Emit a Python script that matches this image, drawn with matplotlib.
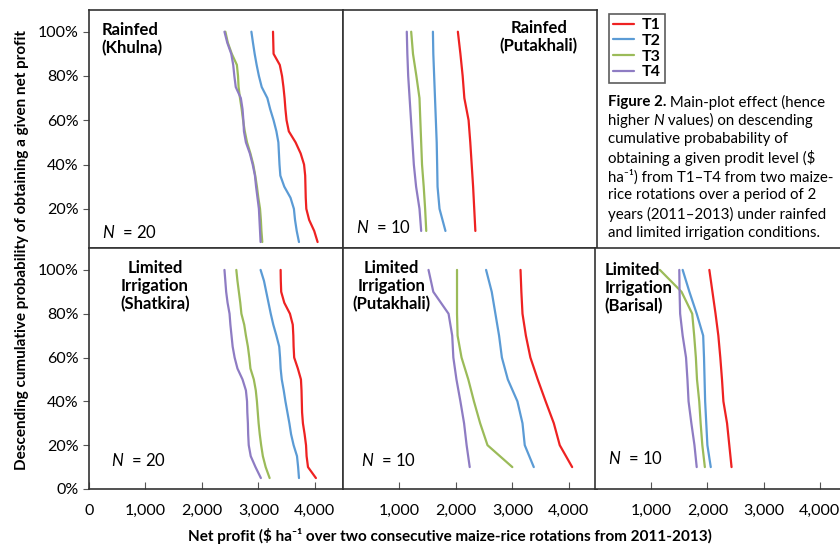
import matplotlib
matplotlib.use("Agg")
import matplotlib.pyplot as plt
import matplotlib.ticker as mticker

plt.rcParams['font.family'] = ['Lato', 'DejaVu Sans']
plt.rcParams['mathtext.fontset'] = 'custom'
plt.rcParams['mathtext.rm'] = 'Lato'
plt.rcParams['mathtext.it'] = 'Lato:italic'
plt.rcParams['mathtext.bf'] = 'Lato:bold'

# descending cumulative probability (%)
prob20 = [100, 95, 90, 85, 80, 75, 70, 65, 60, 55, 50, 45, 40, 35, 30, 25, 20, 15, 10, 5]
prob10 = [100, 90, 80, 70, 60, 50, 40, 30, 20, 10]

# net profit ($/ha) per treatment
khulna_t1 = [3260, 3265, 3270, 3380, 3420, 3445, 3465, 3480, 3500, 3540, 3660, 3750, 3810, 3830, 3835, 3840, 3850, 3900, 3990, 4050]
khulna_t2 = [2877, 2905, 2935, 2970, 3010, 3060, 3160, 3210, 3270, 3320, 3355, 3365, 3375, 3390, 3460, 3570, 3630, 3650, 3680, 3720]
khulna_t3 = [2416, 2460, 2530, 2620, 2640, 2650, 2675, 2705, 2730, 2760, 2800, 2860, 2910, 2945, 2975, 3000, 3030, 3045, 3055, 3070]
khulna_t4 = [2400, 2450, 2520, 2555, 2575, 2600, 2690, 2720, 2735, 2745, 2780, 2850, 2900, 2940, 2960, 2985, 3010, 3020, 3030, 3040]

putakhali_rf_t1 = [2035, 2080, 2120, 2150, 2225, 2255, 2280, 2305, 2325, 2345]
putakhali_rf_t2 = [1593, 1600, 1615, 1630, 1645, 1660, 1668, 1675, 1710, 1815]
putakhali_rf_t3 = [1208, 1240, 1300, 1355, 1370, 1385, 1400, 1430, 1455, 1475]
putakhali_rf_t4 = [1130, 1140, 1155, 1180, 1205, 1230, 1255, 1295, 1355, 1385]

shatkira_t1 = [3395, 3398, 3405, 3460, 3560, 3610, 3620, 3625, 3635, 3700, 3755, 3765, 3770, 3775, 3790, 3820, 3845, 3855, 3880, 4020]
shatkira_t2 = [3040, 3100, 3140, 3180, 3220, 3265, 3320, 3370, 3385, 3395, 3415, 3450, 3480, 3515, 3550, 3580, 3625, 3685, 3705, 3720]
shatkira_t3 = [2610, 2630, 2655, 2680, 2700, 2750, 2780, 2815, 2840, 2860, 2920, 2955, 2975, 2990, 3005, 3025, 3050, 3080, 3130, 3200]
shatkira_t4 = [2400, 2415, 2430, 2455, 2490, 2505, 2525, 2545, 2580, 2630, 2720, 2780, 2800, 2805, 2815, 2820, 2830, 2865, 2950, 3045]

putakhali_li_t1 = [3145, 3160, 3180, 3240, 3320, 3450, 3590, 3735, 3840, 4060]
putakhali_li_t2 = [2535, 2635, 2700, 2765, 2815, 2920, 3090, 3180, 3220, 3380]
putakhali_li_t3 = [2020, 2020, 2020, 2030, 2100, 2220, 2320, 2430, 2560, 3000]
putakhali_li_t4 = [1515, 1600, 1870, 1935, 1955, 2010, 2080, 2145, 2190, 2245]

barisal_t1 = [2035, 2090, 2145, 2195, 2230, 2260, 2285, 2350, 2390, 2430]
barisal_t2 = [1560, 1680, 1810, 1925, 1940, 1950, 1960, 1980, 2000, 2060]
barisal_t3 = [1155, 1540, 1730, 1765, 1795, 1815, 1855, 1880, 1910, 1955]
barisal_t4 = [1500, 1505, 1515, 1560, 1620, 1645, 1665, 1715, 1770, 1810]

treatments = ['T1', 'T2', 'T3', 'T4']
colors = ['#ee2222', '#5b9bd5', '#9bbb59', '#8e7cc3']

fig = plt.figure(figsize=(8.4, 5.44), dpi=100)

W = 254 / 840
ax_kh = fig.add_axes([89 / 840, 296 / 544, W, 238 / 544])
ax_prf = fig.add_axes([343 / 840, 296 / 544, W, 238 / 544])
ax_sh = fig.add_axes([89 / 840, 55 / 544, W, 241 / 544])
ax_pli = fig.add_axes([343 / 840, 55 / 544, W, 241 / 544])
ax_ba = fig.add_axes([595 / 840, 55 / 544, 245 / 840, 241 / 544])

panels = [
    (ax_kh, prob20, [khulna_t1, khulna_t2, khulna_t3, khulna_t4]),
    (ax_prf, prob10, [putakhali_rf_t1, putakhali_rf_t2, putakhali_rf_t3, putakhali_rf_t4]),
    (ax_sh, prob20, [shatkira_t1, shatkira_t2, shatkira_t3, shatkira_t4]),
    (ax_pli, prob10, [putakhali_li_t1, putakhali_li_t2, putakhali_li_t3, putakhali_li_t4]),
    (ax_ba, prob10, [barisal_t1, barisal_t2, barisal_t3, barisal_t4]),
]

for ax, p, series in panels:
    for vals, c, name in zip(series, colors, treatments):
        ax.plot(vals, p, color=c, lw=1.6, label=name, solid_capstyle='round')
    for s in ax.spines.values():
        s.set_color('#333333')
        s.set_linewidth(1.2)
    ax.set_xticks([1000, 2000, 3000, 4000])
    ax.xaxis.set_major_formatter(mticker.StrMethodFormatter('{x:,.0f}'))
    ax.tick_params(axis='x', direction='in', length=5, labelsize=11.5, pad=11, color='#555555')
    ax.tick_params(axis='y', direction='out', length=4, labelsize=11.5, color='#555555')

for ax in [ax_kh, ax_prf]:
    ax.set_xlim(0, 4500)
    ax.set_ylim(2.3, 109.8)
    ax.set_xticks([])
for ax in [ax_sh, ax_pli]:
    ax.set_xlim(0, 4500)
    ax.set_ylim(0, 110)
ax_ba.set_xlim(0, 4360)
ax_ba.set_ylim(0, 110)
ax_ba.spines['right'].set_visible(False)

ax_kh.set_yticks([20, 40, 60, 80, 100])
ax_sh.set_yticks([0, 20, 40, 60, 80, 100])
for ax in [ax_kh, ax_sh]:
    ax.yaxis.set_major_formatter(mticker.PercentFormatter(xmax=100, decimals=0))
for ax in [ax_prf, ax_pli, ax_ba]:
    ax.set_yticks([])

# 0 label only on the first panel
ax_sh.set_xticks([0, 1000, 2000, 3000, 4000])
ax_sh.xaxis.set_major_formatter(mticker.StrMethodFormatter('{x:,.0f}'))

lab = dict(fontsize=12, fontweight='bold', va='top', linespacing=1.15)
ax_kh.text(0.05, 0.95, 'Rainfed\n(Khulna)', transform=ax_kh.transAxes, ha='left', **lab)
ax_prf.text(0.77, 0.96, 'Rainfed\n(Putakhali)', transform=ax_prf.transAxes, ha='center', **lab)
ax_sh.text(0.26, 0.95, 'Limited\nIrrigation\n(Shatkira)', transform=ax_sh.transAxes, ha='center', **lab)
ax_pli.text(0.19, 0.95, 'Limited\nIrrigation\n(Putakhali)', transform=ax_pli.transAxes, ha='center', **lab)
ax_ba.text(0.04, 0.94, 'Limited\nIrrigation\n(Barisal)', transform=ax_ba.transAxes, ha='left', **lab)

nk = dict(fontsize=12, va='center', ha='left')
ax_kh.text(0.05, 0.065, '$N$  = 20', transform=ax_kh.transAxes, **nk)
ax_prf.text(0.05, 0.085, '$N$  = 10', transform=ax_prf.transAxes, **nk)
ax_sh.text(0.085, 0.12, '$N$  = 20', transform=ax_sh.transAxes, **nk)
ax_pli.text(0.07, 0.12, '$N$  = 10', transform=ax_pli.transAxes, **nk)
ax_ba.text(0.055, 0.128, '$N$  = 10', transform=ax_ba.transAxes, **nk)

handles, labels = ax_kh.get_legend_handles_labels()
leg = fig.legend(handles, labels, loc='upper left', bbox_to_anchor=(601 / 840, 1 - 6 / 544),
                 frameon=True, fancybox=False, handlelength=1.3, handletextpad=0.5,
                 labelspacing=0.1, borderpad=0.25, prop={'weight': 'bold', 'size': 11.5})
leg.get_frame().set_edgecolor('#333333')
leg.get_frame().set_linewidth(1.2)

# caption, drawn line by line so mixed styles keep an even spacing
caption_lines = [
    [('Figure 2.', 'bold', 'normal'), (' Main-plot effect (hence', 'normal', 'normal')],
    [('higher ', 'normal', 'normal'), ('N', 'normal', 'italic'), (' values) on descending', 'normal', 'normal')],
    [('cumulative probabability of', 'normal', 'normal')],
    [('obtaining a given prodit level ($', 'normal', 'normal')],
    [('ha\u207b\u00b9) from T1\u2013T4 from two maize-', 'normal', 'normal')],
    [('rice rotations over a period of 2', 'normal', 'normal')],
    [('years (2011\u20132013) under rainfed', 'normal', 'normal')],
    [('and limited irrigation conditions.', 'normal', 'normal')],
]
renderer = fig.canvas.get_renderer()
y_px = 102
for line in caption_lines:
    x_px = 608
    for txt, wt, st in line:
        t = fig.text(x_px / 840, 1 - y_px / 544, txt, fontsize=10.8, fontweight=wt, fontstyle=st,
                     va='center', ha='left')
        x_px += t.get_window_extent(renderer).width
    y_px += 18.7

fig.text(22 / 840, 1 - 250 / 544, 'Descending cumulative probability of obtaining a given net profit',
         rotation=90, fontsize=11, fontweight='bold', ha='center', va='center')
fig.text(450 / 840, 1 - 536 / 544,
         'Net profit ($ ha\u207b\u00b9 over two consecutive maize-rice rotations from 2011-2013)',
         fontsize=11, fontweight='bold', ha='center', va='center')

fig.savefig('out.png', dpi=100)
